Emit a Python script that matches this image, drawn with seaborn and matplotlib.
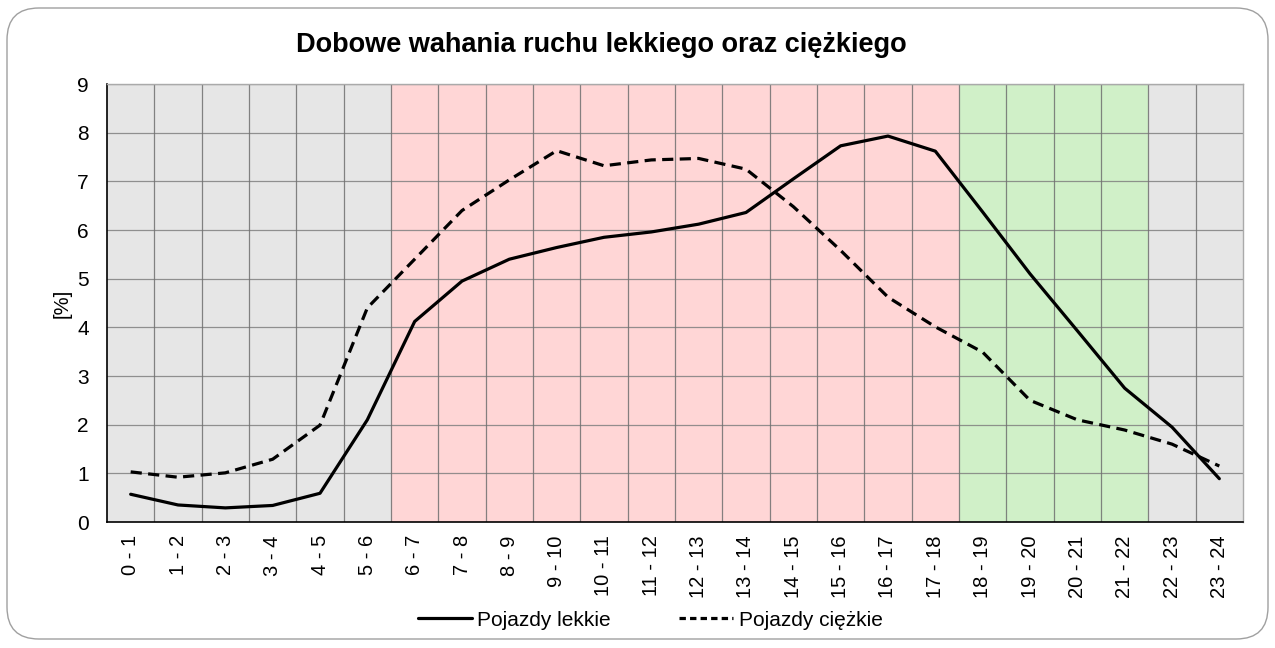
import matplotlib
matplotlib.use("Agg")
import matplotlib.pyplot as plt
from matplotlib.patches import FancyBboxPatch
from matplotlib.lines import Line2D
import seaborn as sns
import pandas as pd

hours = [f"{h} - {h+1}" for h in range(24)]
light = [0.57, 0.35, 0.29, 0.34, 0.59, 2.10, 4.12, 4.95, 5.40, 5.64, 5.85, 5.96,
         6.12, 6.36, 7.05, 7.73, 7.93, 7.62, 6.37, 5.10, 3.93, 2.75, 1.95, 0.89]
heavy = [1.03, 0.92, 1.01, 1.29, 1.99, 4.40, 5.40, 6.40, 7.03, 7.63, 7.32, 7.44,
         7.47, 7.25, 6.48, 5.58, 4.62, 4.01, 3.49, 2.50, 2.10, 1.89, 1.60, 1.15]
series_names = ["Pojazdy lekkie", "Pojazdy ciężkie"]
title = "Dobowe wahania ruchu lekkiego oraz ciężkiego"
ylabel = "[%]"

df = pd.DataFrame({
    "godz": hours * 2,
    "val": light + heavy,
    "typ": [series_names[0]] * 24 + [series_names[1]] * 24,
})

sns.set_theme(style="white")
plt.rcParams['font.family'] = ['Liberation Sans', 'DejaVu Sans']
plt.rcParams['text.color'] = 'black'
plt.rcParams['axes.labelcolor'] = 'black'
plt.rcParams['xtick.color'] = 'black'
plt.rcParams['ytick.color'] = 'black'

fig = plt.figure(figsize=(12.75, 6.48), dpi=100)
ax = fig.add_axes([107/1275, 1 - 522/648, (1243-107)/1275, (522-84)/648])

# background bands
band_specs = [(-0.5, 5.5, "#E6E6E6"), (5.5, 17.5, "#FFD6D6"),
              (17.5, 21.5, "#D0F0C8"), (21.5, 23.5, "#E6E6E6")]
for a, b, c in band_specs:
    ax.axvspan(a, b, color=c, zorder=0, lw=0)

sns.lineplot(data=df, x="godz", y="val", style="typ", color="black",
             dashes={series_names[0]: "", series_names[1]: (3.5, 2)},
             linewidth=2.3, ax=ax, legend=False, sort=False, zorder=3)

ax.set_xlim(-0.5, 23.5)
ax.set_ylim(0, 9)
ax.set_yticks(range(0, 10))
ax.set_xticks(range(24))
ax.set_xticklabels(hours, rotation=90, fontsize=14.5)
ax.tick_params(axis='y', labelsize=15, pad=13, length=0, colors='black')
ax.tick_params(axis='x', pad=9.5, length=0, colors='black')
for v in range(1, 10):
    ax.axhline(v, color="#808080", lw=0.9, alpha=0.85, zorder=1)
for v in range(1, 24):
    ax.axvline(v - 0.5, color="#707070", lw=0.9, alpha=0.85, zorder=1)
ax.set_xlabel("")
ax.set_ylabel(ylabel, fontsize=14.5, labelpad=4, color='black')
for s in ["left", "bottom"]:
    ax.spines[s].set_color("black")
    ax.spines[s].set_linewidth(1.2)
for s in ["top", "right"]:
    ax.spines[s].set_color("#AAAAAA")
    ax.spines[s].set_linewidth(1.0)

fig.text(601/1275, 1 - 45/648, title, ha="center", va="center",
         fontsize=19.5, fontweight="bold", color='black')

handles = [Line2D([], [], color="black", lw=2.3),
           Line2D([], [], color="black", lw=2.3, dashes=(2.0, 1.3))]
leg = fig.legend(handles, series_names, loc="center", bbox_to_anchor=(650/1275, 1 - 620/648),
                 ncol=2, frameon=False, fontsize=15, handlelength=2.6,
                 handletextpad=0.25, columnspacing=3.3)
for t in leg.get_texts():
    t.set_color('black')

border = FancyBboxPatch((7/1275, 9/648), (1268-7)/1275, (640-9)/648,
                        boxstyle="round,pad=0,rounding_size=0.025",
                        transform=fig.transFigure, fill=False,
                        edgecolor="#A0A0A0", lw=1.0, mutation_aspect=1275/648)
fig.patches.append(border)

fig.savefig("out.png", dpi=100)
